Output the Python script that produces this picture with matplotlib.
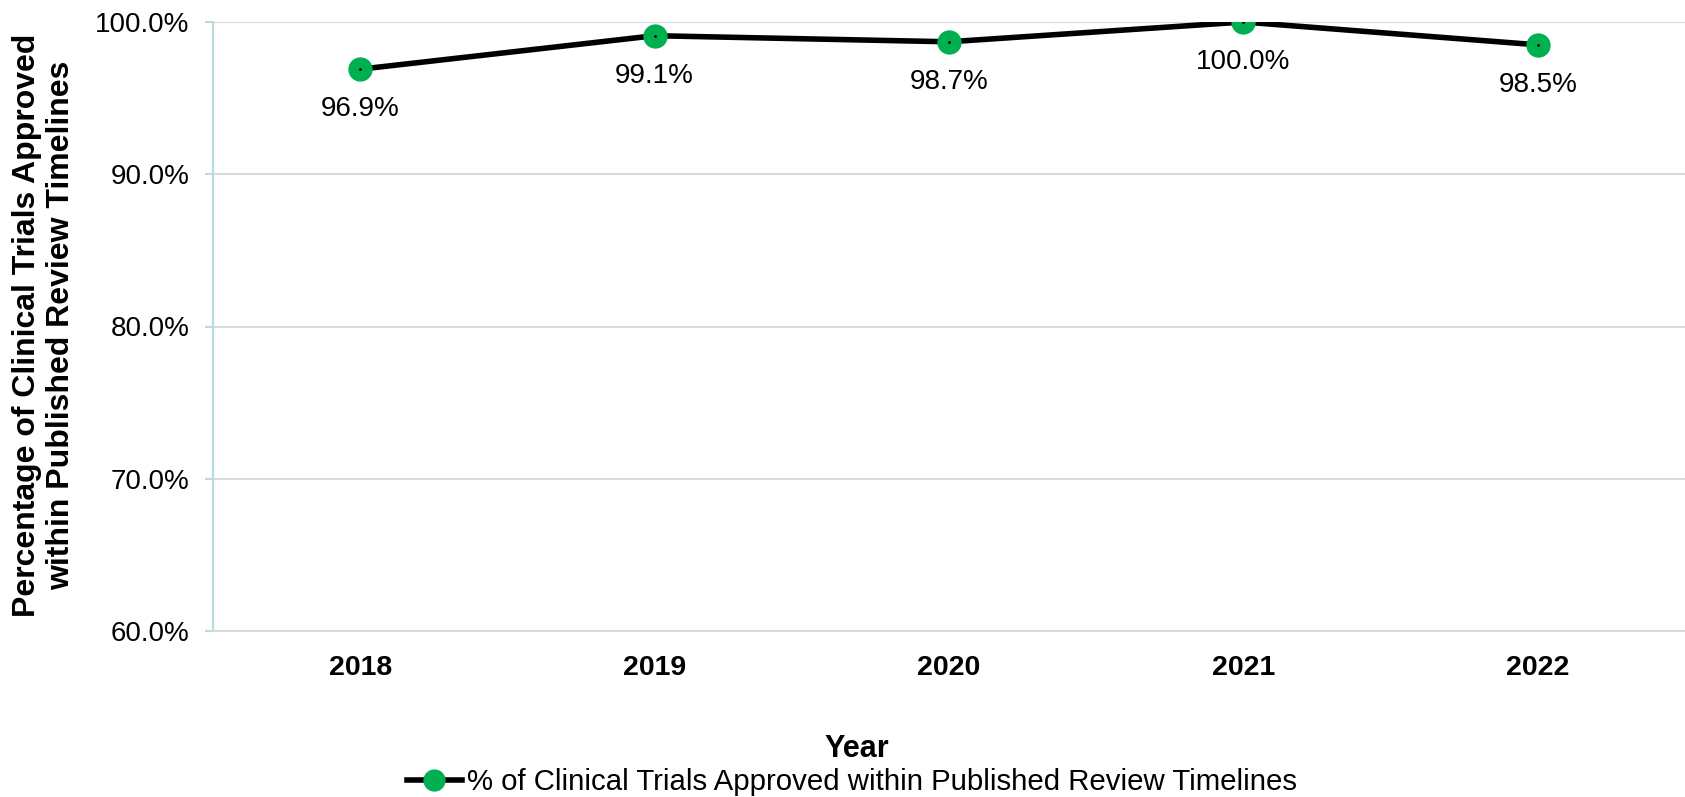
import matplotlib.pyplot as plt
from matplotlib.ticker import FuncFormatter
from matplotlib.lines import Line2D

plt.rcParams['font.family'] = ['Liberation Sans', 'DejaVu Sans']

years = ['2018', '2019', '2020', '2021', '2022']
pct = [96.9, 99.1, 98.7, 100.0, 98.5]
series_name = '% of Clinical Trials Approved within Published Review Timelines'

W, H = 1685, 797
fig = plt.figure(figsize=(W / 100, H / 100), dpi=100)
ax = fig.add_axes([213 / W, 1 - 631 / H, 1 - 213 / W, (631 - 22) / H])

x = list(range(len(years)))
ax.plot(x, pct, color='black', lw=4, zorder=3, solid_capstyle='round')
ax.plot(x, pct, ls='none', marker='o', ms=16.5, mfc='#00b050', mec='#00b050', zorder=4)
ax.plot(x, pct, ls='none', marker='.', ms=2, color='black', zorder=5)

for xi, v in zip(x, pct):
    ax.annotate(f'{v:.1f}%', (xi, v), xytext=(0, -34), textcoords='offset points',
                ha='center', va='baseline', fontsize=20)

ax.set_xlim(-0.5, 4.5)
ax.set_ylim(60, 100)
ax.set_yticks([60, 70, 80, 90, 100])
ax.yaxis.set_major_formatter(FuncFormatter(lambda v, p: f'{v:.1f}%'))
ax.set_xticks(x)
ax.set_xticklabels(years, fontsize=20.5, fontweight='bold')
ax.tick_params(axis='y', labelsize=20, length=6, color='#b7dde1', width=1.5, pad=11)
ax.tick_params(axis='x', length=0, pad=17)

ax.grid(axis='y', color='#d9d9d9', lw=1.5)
ax.set_axisbelow(True)
for s in ['top', 'right']:
    ax.spines[s].set_visible(False)
ax.spines['left'].set_color('#b7dde1')
ax.spines['left'].set_linewidth(1.5)
ax.spines['bottom'].set_color('#d9d9d9')
ax.spines['bottom'].set_linewidth(1.5)

# y label placed by hand, like the reference
fig.text(44 / W, 1 - 325 / H,
         'Percentage of Clinical Trials Approved\nwithin Published Review Timelines',
         rotation=90, ha='center', va='center', multialignment='center',
         fontsize=23, fontweight='bold', linespacing=1.2)

fig.text(857 / W, 1 - 749 / H, 'Year', ha='center', va='center',
         fontsize=22, fontweight='bold')

handle = Line2D([0], [0], color='black', lw=4, marker='o', ms=15,
                mfc='#00b050', mec='#00b050')
fig.legend([handle], [series_name], loc='center', bbox_to_anchor=(852 / W, 1 - 782 / H),
           frameon=False, fontsize=21.2, handlelength=1.9, handletextpad=0.17,
           borderpad=0, borderaxespad=0)

fig.savefig('out.png', dpi=100)
